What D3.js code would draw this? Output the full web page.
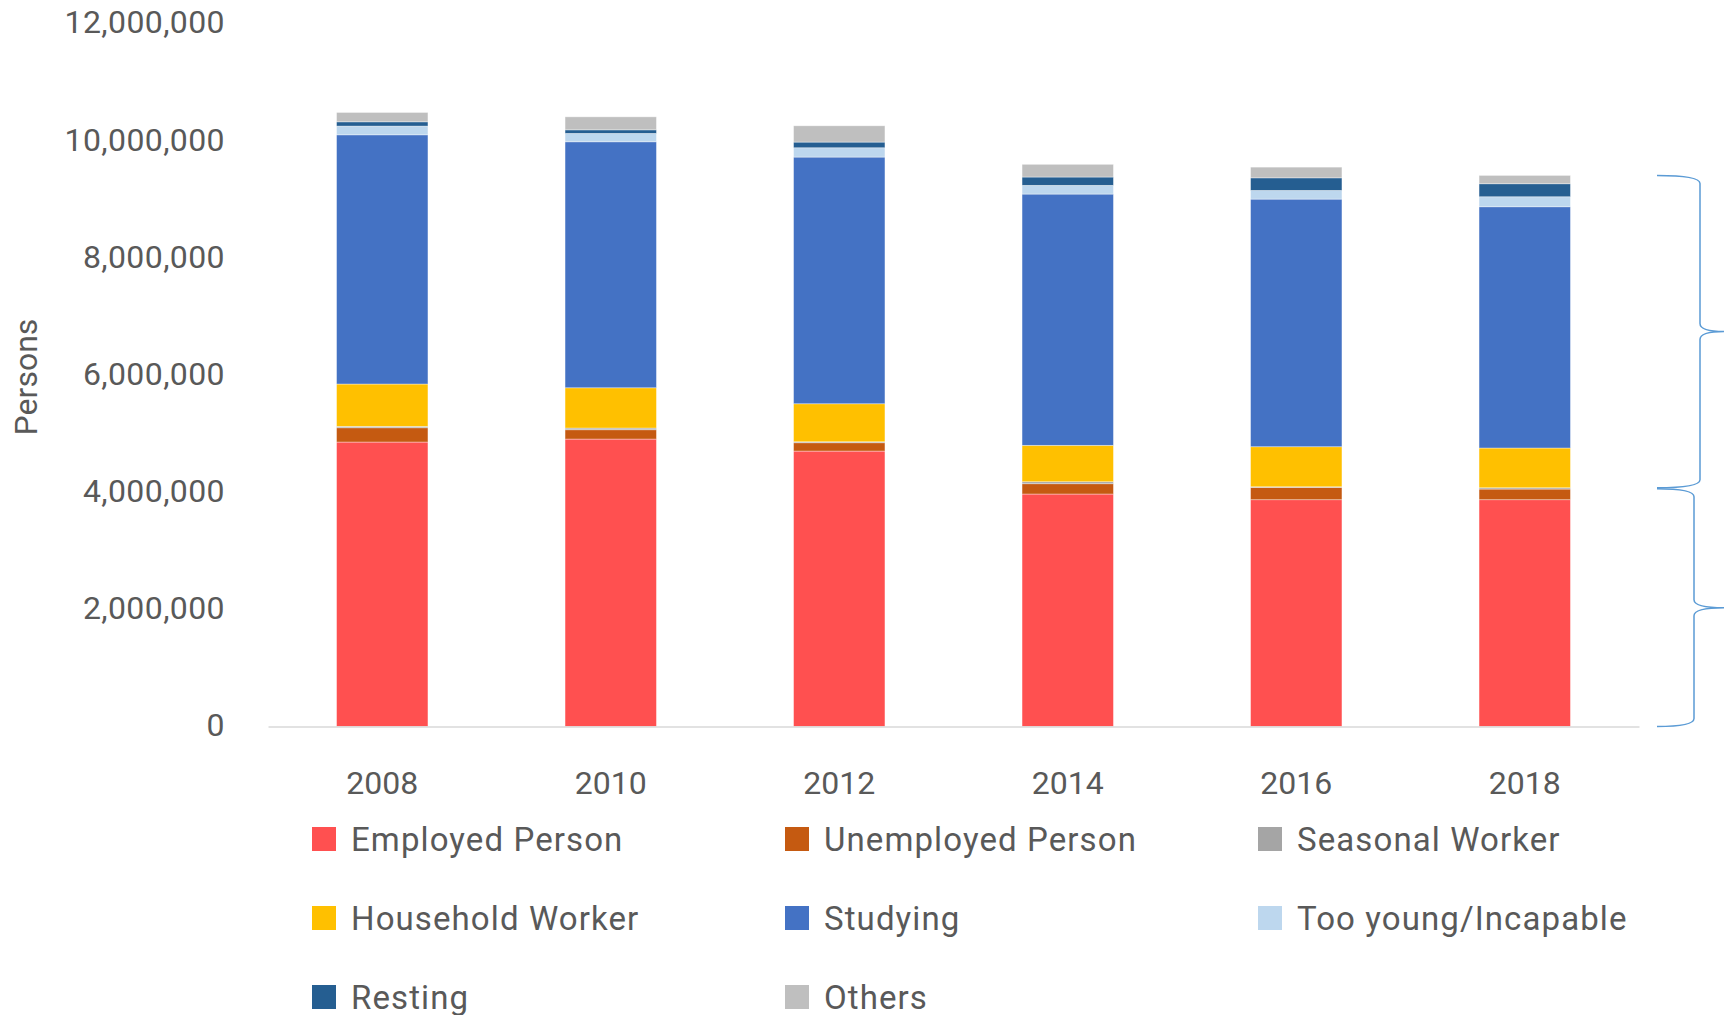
<!DOCTYPE html>
<html>
<head>
<meta charset="utf-8">
<script src="https://cdn.jsdelivr.net/npm/d3@7"></script>
<style>
  body { margin: 0; background: #fff; }
  svg text { font-family: Roboto, "Noto Sans", sans-serif; fill: #595959; }
</style>
</head>
<body>
<div id="chart"></div>
<script>
// data (persons)
const years = ["2008", "2010", "2012", "2014", "2016", "2018"];
const categories = ["Employed Person", "Unemployed Person", "Seasonal Worker", "Household Worker",
  "Studying", "Too young/Incapable", "Resting", "Others"];
const employed   = [4859000, 4910000, 4705000, 3971000, 3874000, 3874000];
const unemployed = [244000, 159000, 142000, 176000, 211000, 182000];
const seasonal   = [24000, 29000, 17000, 34000, 10000, 22000];
const household  = [723000, 688000, 649000, 622000, 684000, 679000];
const studying   = [4257000, 4202000, 4214000, 4292000, 4230000, 4121000];
const tooYoung   = [149000, 143000, 159000, 149000, 148000, 171000];
const resting    = [73000, 61000, 97000, 142000, 215000, 222000];
const others     = [160000, 222000, 278000, 217000, 183000, 143000];
const yTicks = [0, 2000000, 4000000, 6000000, 8000000, 10000000, 12000000];

const colors = ["#FF5050", "#C55A11", "#A5A5A5", "#FFC000", "#4472C4", "#BDD7EE", "#255E91", "#BFBFBF"];
const series = [employed, unemployed, seasonal, household, studying, tooYoung, resting, others];

const table = years.map((y, i) => {
  const row = { year: y };
  categories.forEach((c, k) => row[c] = series[k][i]);
  return row;
});

const width = 1724, height = 1015;
const svg = d3.select("#chart").append("svg")
  .attr("width", width).attr("height", height);

const x = d3.scaleBand().domain(years).range([268, 1639])
  .paddingInner(0.6).paddingOuter(0.3);
const y = d3.scaleLinear().domain([0, 12000000]).range([726.5, 24]);
const color = d3.scaleOrdinal(categories, colors);

const stacked = d3.stack().keys(categories)(table);

svg.append("g")
  .selectAll("g")
  .data(stacked)
  .join("g")
  .attr("fill", d => color(d.key))
  .selectAll("rect")
  .data(d => d)
  .join("rect")
  .attr("x", d => x(d.data.year))
  .attr("width", x.bandwidth())
  .attr("y", d => y(d[1]))
  .attr("height", d => y(d[0]) - y(d[1]))
  .attr("stroke", "#fff")
  .attr("stroke-opacity", 0.5)
  .attr("stroke-width", 0.75);

// y axis
const yAxis = svg.append("g")
  .attr("transform", "translate(225,0)")
  .call(d3.axisLeft(y).tickValues(yTicks).tickFormat(d3.format(",")).tickSize(0).tickPadding(0));
yAxis.select(".domain").remove();
yAxis.selectAll("text").attr("font-size", 32).attr("dy", "0.28em").attr("letter-spacing", 0.4);

// x axis
const xAxis = svg.append("g")
  .attr("transform", `translate(0,${y(0)})`)
  .call(d3.axisBottom(x).tickSize(0).tickPadding(56));
xAxis.select(".domain").attr("stroke", "#D9D9D9").attr("stroke-width", 1.5);
xAxis.selectAll("text").attr("font-size", 32).attr("dy", "0.35em");

// axis title
svg.append("text")
  .attr("transform", "translate(26,377) rotate(-90)")
  .attr("text-anchor", "middle")
  .attr("dy", "0.35em")
  .attr("font-size", 32)
  .text("Persons");

// braces on the right, spanning 2018 labour force / non labour force
const last = table[table.length - 1];
const labour = last["Employed Person"] + last["Unemployed Person"] + last["Seasonal Worker"];
const total = d3.sum(categories, c => last[c]);

function brace(y0, y1, xs, xv, xt) {
  const ym = (y0 + y1) / 2;
  const r = 8;
  return `M${xs},${y0} Q${xv},${y0} ${xv},${y0 + r} L${xv},${ym - r} Q${xv},${ym} ${xt},${ym}` +
    ` M${xt},${ym} Q${xv},${ym} ${xv},${ym + r} L${xv},${y1 - r} Q${xv},${y1} ${xs},${y1}`;
}
svg.append("path")
  .attr("d", brace(y(total), y(labour), 1657, 1700, 1724))
  .attr("fill", "none").attr("stroke", "#5B9BD5").attr("stroke-width", 1.5);
svg.append("path")
  .attr("d", brace(y(labour) + 1, y(0), 1657, 1694, 1724))
  .attr("fill", "none").attr("stroke", "#5B9BD5").attr("stroke-width", 1.5);

// legend
const legend = svg.append("g");
const item = legend.selectAll("g")
  .data(categories)
  .join("g")
  .attr("transform", (d, i) => `translate(${312 + (i % 3) * 473},${839 + Math.floor(i / 3) * 79})`);
item.append("rect")
  .attr("x", 0).attr("y", -12).attr("width", 24).attr("height", 24)
  .attr("fill", d => color(d));
item.append("text")
  .attr("x", 39).attr("dy", "0.35em")
  .attr("font-size", 33)
  .attr("letter-spacing", 1.1)
  .text(d => d);
</script>
</body>
</html>
